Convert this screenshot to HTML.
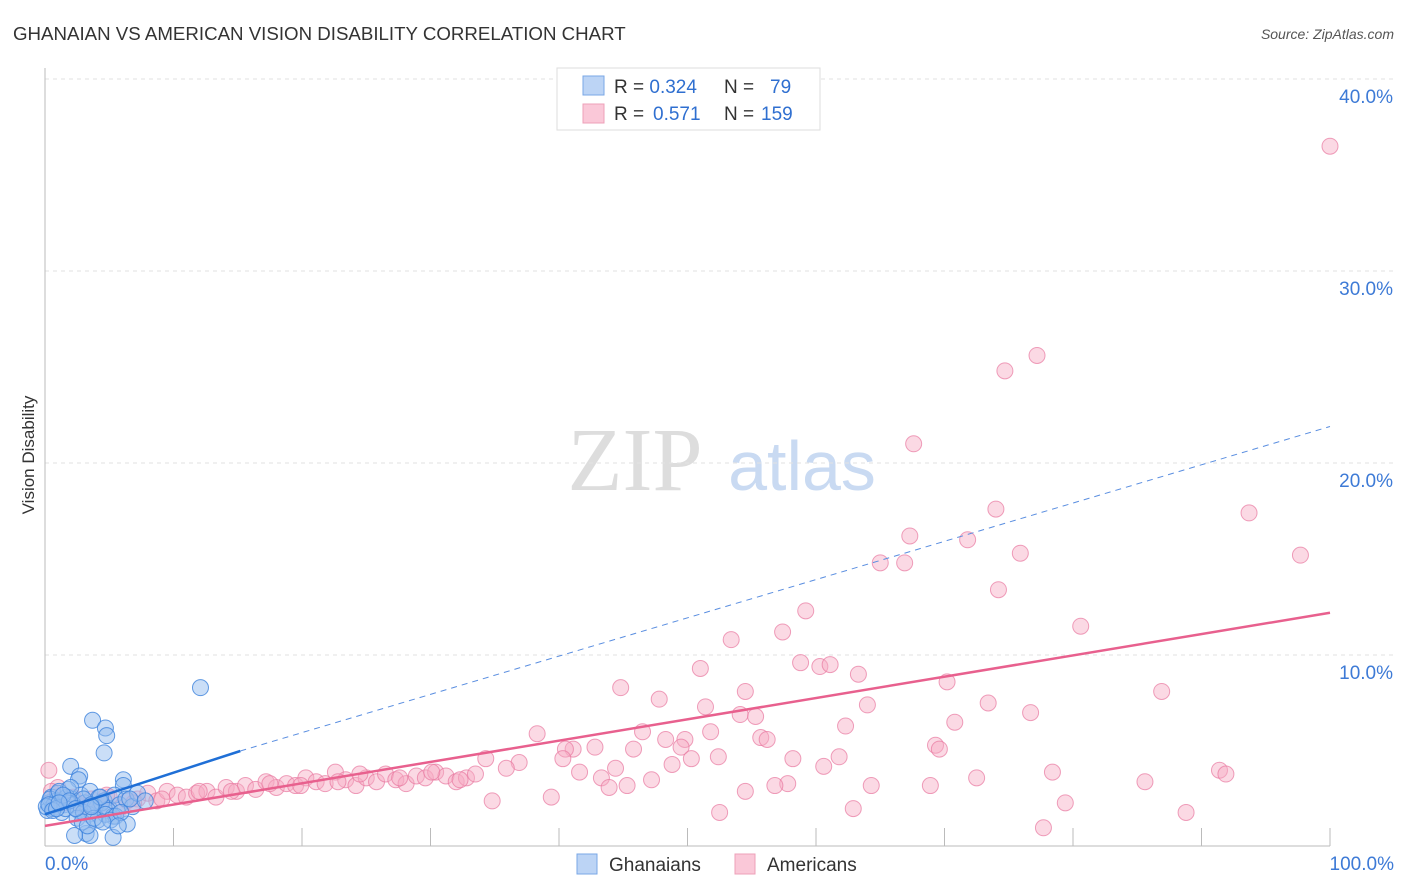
<!DOCTYPE html>
<html><head><meta charset="utf-8"><style>
body{margin:0;background:#fff;font-family:"Liberation Sans",sans-serif;}
svg{display:block}
</style></head><body>
<svg id="chart" width="1406" height="892">
<text x="13" y="40" font-size="18.7" fill="#333">GHANAIAN VS AMERICAN VISION DISABILITY CORRELATION CHART</text>
<text x="1394" y="39" font-size="14" fill="#555" font-style="italic" text-anchor="end">Source: ZipAtlas.com</text>
<text transform="translate(34,455) rotate(-90)" font-size="17" fill="#333" text-anchor="middle">Vision Disability</text>
<g><text x="635" y="490" font-size="90" fill="#ddd" font-family="Liberation Serif,serif" text-anchor="middle">ZIP</text><text x="802" y="490" font-size="70" fill="#c9daf2" text-anchor="middle">atlas</text></g>
<g id="grid"></g><g id="axes"></g><g id="pts"></g><g id="trend"></g>
<g>
<rect x="557" y="68" width="263" height="62" fill="#fff" stroke="#ddd"/>
<rect x="583" y="76" width="21" height="19" fill="#bcd4f5" stroke="#7aa7e6"/>
<rect x="583" y="104" width="21" height="19" fill="#fac8d8" stroke="#eea0b8"/>
<text x="614" y="93" font-size="19" fill="#333">R = <tspan fill="#2f6fd0">0.324</tspan><tspan x="724">N = </tspan><tspan x="770" fill="#2f6fd0">79</tspan></text>
<text x="614" y="120" font-size="19" fill="#333">R = <tspan x="653" fill="#2f6fd0">0.571</tspan><tspan x="724">N = </tspan><tspan x="761" fill="#2f6fd0">159</tspan></text>
</g>
<g>
<rect x="577" y="854" width="20" height="20" fill="#bcd4f5" stroke="#7aa7e6"/>
<text x="609" y="871" font-size="19" fill="#333">Ghanaians</text>
<rect x="735" y="854" width="20" height="20" fill="#fac8d8" stroke="#eea0b8"/>
<text x="767" y="871" font-size="19" fill="#333">Americans</text>
</g>
</svg>
<script>
const yTicks=[10,20,30,40];
const yTickLabels=["10.0%","20.0%","30.0%","40.0%"];
const xTickLabels=["0.0%","100.0%"];
const pinkX=[100,77.2,74.7,67.6,74.0,93.7,67.3,71.8,75.9,97.7,65.0,66.9,74.2,59.2,57.4,80.6,53.4,51.0,58.8,60.3,61.1,63.3,44.8,70.2,86.9,54.5,47.8,51.4,64.0,73.4,76.7,54.1,55.3,70.8,62.3,46.5,51.8,38.3,55.7,56.2,48.3,49.8,69.3,69.6,42.8,41.1,40.5,45.8,49.5,61.8,58.2,52.4,40.3,50.3,34.3,48.8,60.6,36.9,35.9,91.4,91.9,78.4,72.5,41.6,44.4,43.3,47.2,85.6,57.8,56.8,64.3,68.9,43.9,45.3,54.5,39.4,34.8,79.4,62.9,52.5,88.8,77.7,
0.3,0.8,1.5,2.2,3.0,3.6,4.3,5.0,5.8,6.4,7.2,8.0,8.7,9.5,10.3,11.0,11.8,12.6,13.3,14.1,14.9,15.6,16.4,17.2,18.0,18.8,19.5,20.3,21.1,21.8,22.6,23.4,24.2,25.0,25.8,26.5,27.3,28.1,28.9,29.6,30.4,31.2,32.0,32.8,33.5,1.0,2.8,4.8,6.9,9.1,12.0,14.5,17.5,19.9,22.8,24.5,27.6,30.1,32.3,0.5,3.3];
const pinkY=[36.5,25.6,24.8,21.0,17.6,17.4,16.2,16.0,15.3,15.2,14.8,14.8,13.4,12.3,11.2,11.5,10.8,9.3,9.6,9.4,9.5,9.0,8.3,8.6,8.1,8.1,7.7,7.3,7.4,7.5,7.0,6.9,6.8,6.5,6.3,6.0,6.0,5.9,5.7,5.6,5.6,5.6,5.3,5.1,5.2,5.1,5.1,5.1,5.2,4.7,4.6,4.7,4.6,4.6,4.6,4.3,4.2,4.4,4.1,4.0,3.8,3.9,3.6,3.9,4.1,3.6,3.5,3.4,3.3,3.2,3.2,3.2,3.1,3.2,2.9,2.6,2.4,2.3,2.0,1.8,1.8,1.0,
4.0,2.6,2.3,2.6,2.1,2.5,2.2,2.6,2.0,2.4,2.5,2.8,2.4,2.9,2.7,2.6,2.8,2.9,2.6,3.1,2.9,3.2,3.0,3.4,3.1,3.3,3.2,3.6,3.4,3.3,3.9,3.5,3.2,3.6,3.4,3.8,3.5,3.3,3.7,3.6,3.9,3.7,3.4,3.6,3.8,3.1,2.2,2.7,2.3,2.5,2.9,2.9,3.3,3.2,3.4,3.8,3.6,3.9,3.5,2.9,2.1];
const blueX=[12.1,3.7,4.7,4.8,4.6,2.0,2.7,2.6,6.1,6.1,0.3,0.5,0.8,1.0,1.2,1.5,1.8,2.1,2.4,2.8,3.1,3.5,3.9,4.2,4.6,5.0,5.4,5.8,6.3,6.8,7.2,0.2,0.6,0.9,1.3,1.7,2.2,2.6,3.0,3.4,3.9,4.4,4.9,5.3,0.4,0.7,1.1,1.6,2.0,2.5,3.0,3.6,4.1,4.7,5.5,6.4,3.2,3.5,2.3,5.3,0.1,0.3,0.6,0.9,1.4,1.9,2.9,3.3,3.8,4.3,5.1,5.9,6.6,7.8,1.1,2.4,3.6,4.5,5.7];
const blueY=[8.3,6.6,6.2,5.8,4.9,4.2,3.7,3.5,3.5,3.2,2.3,2.6,2.1,2.8,2.4,2.2,3.0,2.5,2.0,2.7,2.3,2.9,2.1,2.6,2.4,2.0,2.7,2.2,2.5,2.1,2.8,1.9,2.0,2.4,1.8,2.6,2.2,1.9,2.5,1.7,2.1,2.3,1.9,1.6,2.5,2.2,2.9,2.0,3.1,1.5,1.8,2.2,1.4,1.7,1.6,1.2,0.7,0.6,0.6,0.5,2.1,2.2,1.9,2.0,2.7,2.4,1.3,1.1,1.5,2.6,1.4,1.8,2.5,2.4,2.3,2.0,2.1,1.3,1.1];
const blueTrend=[[0,1.7],[15.2,5.0],[100,21.9]];
const pinkTrend=[[0,1.1],[100,12.2]];
const X=v=>45+v*12.85, Y=v=>847-v*19.2;
const NS="http://www.w3.org/2000/svg";
function mk(t,a,p){const e=document.createElementNS(NS,t);for(const k in a)e.setAttribute(k,a[k]);p.appendChild(e);return e;}
const grid=document.getElementById('grid'),axes=document.getElementById('axes'),pts=document.getElementById('pts'),tr=document.getElementById('trend');
yTicks.forEach((v,i)=>{
 const l=mk('line',{x1:45,x2:1394,y1:Y(v),y2:Y(v),stroke:'#e2e2e2','stroke-dasharray':'4,4'},grid);
 
 
 const t=mk('text',{x:1393,y:Y(v)+24,'font-size':19,fill:'#3d7ad6','text-anchor':'end'},axes);t.textContent=yTickLabels[i];
 
 
});
const ya=mk('line',{x1:45,x2:45,y1:68,y2:846,stroke:'#bbb'},axes);


const xa=mk('line',{x1:45,x2:1330,y1:846,y2:846,stroke:'#bbb'},axes);


for(let i=0;i<=10;i++){const v=i*10;const tk=mk('line',{x1:X(v),x2:X(v),y1:828,y2:846,stroke:'#bbb'},axes);
 
 }
[[0,'start',45],[100,'end',1394]].forEach((d,i)=>{const t=mk('text',{x:d[2],y:870,'font-size':19,fill:'#3d7ad6','text-anchor':d[1]},axes);t.textContent=xTickLabels[i];
 
 });
pinkX.forEach((v,i)=>{const c=mk('circle',{cx:X(v),cy:Y(pinkY[i]),r:8,fill:'rgba(246,170,196,0.45)',stroke:'rgba(232,120,160,0.7)','stroke-width':1},pts);
 
 });
blueX.forEach((v,i)=>{const c=mk('circle',{cx:X(v),cy:Y(blueY[i]),r:8,fill:'rgba(150,190,240,0.5)',stroke:'rgba(60,130,220,0.8)','stroke-width':1},pts);
 
 });
const b1=mk('line',{x1:X(blueTrend[0][0]),y1:Y(blueTrend[0][1]),x2:X(blueTrend[1][0]),y2:Y(blueTrend[1][1]),stroke:'#1f6fd6','stroke-width':2.5},tr);


const b2=mk('line',{x1:X(blueTrend[1][0]),y1:Y(blueTrend[1][1]),x2:X(blueTrend[2][0]),y2:Y(blueTrend[2][1]),stroke:'#5a8ee0','stroke-width':1,'stroke-dasharray':'6,5'},tr);


const p1=mk('line',{x1:X(pinkTrend[0][0]),y1:Y(pinkTrend[0][1]),x2:X(pinkTrend[1][0]),y2:Y(pinkTrend[1][1]),stroke:'#e8608e','stroke-width':2.5},tr);


</script>
</body></html>
